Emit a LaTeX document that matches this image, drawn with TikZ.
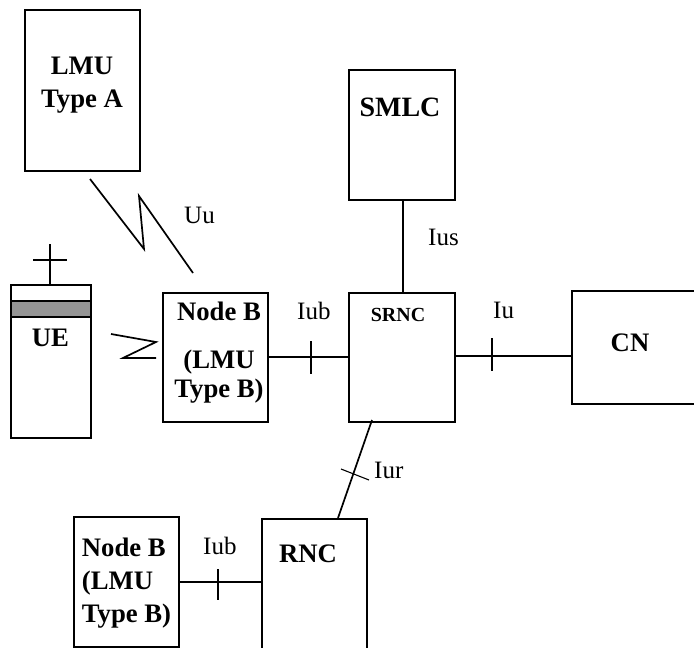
\documentclass[tikz,border=0pt]{standalone}
\usepackage{fontspec}
\setmainfont{Liberation Serif}
\tikzset{
  boxn/.style={draw=black,line width=1.7pt,fill=none,inner sep=0pt,outer sep=0pt},
  wire/.style={draw=black,line width=1.7pt},
  thin wire/.style={draw=black,line width=1.1pt},
  bold label/.style={font=\fontsize{26.7}{33}\selectfont\bfseries,inner sep=0pt,align=center},
  small bold/.style={font=\fontsize{20}{24}\selectfont\bfseries,inner sep=0pt},
  if label/.style={font=\fontsize{25}{30}\selectfont,inner sep=0pt,anchor=base west}
}
\begin{document}
\begin{tikzpicture}[x=1pt,y=-1pt]
\useasboundingbox (0,0) rectangle (694,648);
% boxes
\node[boxn,minimum width=115pt,minimum height=161pt] (lmua) at (82.5,90.5) {};
\node[boxn,minimum width=106pt,minimum height=130pt] (smlc) at (402,135) {};
\node[boxn,minimum width=80pt,minimum height=153pt] (ue) at (51,361.5) {};
\node[boxn,fill=black!42,minimum width=80pt,minimum height=16pt] (band) at (51,309) {};
\node[boxn,minimum width=105pt,minimum height=129pt] (nodeb) at (215.5,357.5) {};
\node[boxn,minimum width=106pt,minimum height=129pt] (srnc) at (402,357.5) {};
\node[boxn,minimum width=128pt,minimum height=113pt] (cn) at (636,347.5) {};
\node[boxn,minimum width=105pt,minimum height=135pt] (rnc) at (314.5,586.5) {};
\node[boxn,minimum width=105pt,minimum height=130pt] (nodeb2) at (126.5,582) {};
% box texts
\node[bold label] (tlmua) at (82,85) {LMU\\Type A};
\node[bold label,font=\fontsize{28}{33}\selectfont\bfseries] (tsmlc) at (400,107) {SMLC};
\node[bold label] (tue) at (50.5,338) {UE};
\node[bold label,font=\fontsize{26.7}{29}\selectfont\bfseries] (tnodeb) at (219,353) {Node B\\[19pt](LMU\\Type B)};
\node[small bold] (tsrnc) at (398,315) {SRNC};
\node[bold label] (tcn) at (630,343) {CN};
\node[bold label] (trnc) at (308,554) {RNC};
\node[bold label,align=left] (tnodeb2) at (126.5,583) {Node B\\(LMU\\Type B)};
% interface labels
\node[if label] at (184,223) (luu) {Uu};
\node[if label] at (428,245) (lius) {Ius};
\node[if label] at (297,319) (liub) {Iub};
\node[if label] at (493,318) (liu) {Iu};
\node[if label] at (374,478) (liur) {Iur};
\node[if label] at (203,554) (liub2) {Iub};
% connectors
\draw[thin wire] (smlc.south -| 403,0) -- (srnc.north -| 403,0);
\draw[wire] (nodeb.east |- 0,357) -- (srnc.west |- 0,357);
\draw[wire] (srnc.east |- 0,356) -- (cn.west |- 0,356);
\coordinate (iurtop) at (372,420);
\coordinate (iurbot) at (338,518);
\draw[wire] (iurtop) -- (iurbot);
\draw[wire] (nodeb2.east |- 0,582) -- (rnc.west |- 0,582);
% ticks
\coordinate (t1a) at (311,341); \coordinate (t1b) at (311,374);
\draw[thin wire] (t1a) -- (t1b);
\coordinate (t2a) at (492,338); \coordinate (t2b) at (492,371);
\draw[thin wire] (t2a) -- (t2b);
\coordinate (t3a) at (341,469); \coordinate (t3b) at (369,480);
\draw[thin wire] (t3a) -- (t3b);
\coordinate (t4a) at (218,569); \coordinate (t4b) at (218,600);
\draw[thin wire] (t4a) -- (t4b);
% radio links
\coordinate (uu1) at (90,179); \coordinate (uu2) at (144,249);
\coordinate (uu3) at (139,196); \coordinate (uu4) at (193,273);
\draw[wire,line join=miter] (uu1) -- (uu2) -- (uu3) -- (uu4);
\coordinate (ur1) at (111,334); \coordinate (ur2) at (156,342);
\coordinate (ur3) at (123,358); \coordinate (ur4) at (156,358);
\draw[wire,line join=miter] (ur1) -- (ur2) -- (ur3) -- (ur4);
% antenna
\coordinate (ant) at (50,244); \coordinate (barl) at (33,260); \coordinate (barr) at (67,260);
\draw[wire] (ant) -- (ue.north -| ant);
\draw[wire] (barl) -- (barr);
\end{tikzpicture}
\end{document}
